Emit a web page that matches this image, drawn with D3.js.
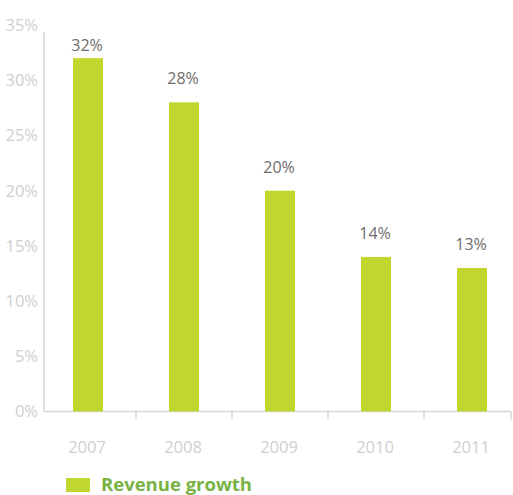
<!DOCTYPE html>
<html>
<head>
<meta charset="utf-8">
<script src="https://cdn.jsdelivr.net/npm/d3@7"></script>
<style>
  html, body { margin: 0; padding: 0; background: #fff; }
  svg { display: block; font-family: "Open Sans", "Noto Sans", sans-serif; }
</style>
</head>
<body>
<svg id="chart" width="513" height="495"></svg>
<script>
// Revenue growth by year (percent)
const years = ["2007", "2008", "2009", "2010", "2011"];
const growth = [32, 28, 20, 14, 13];
const yTicks = [0, 5, 10, 15, 20, 25, 30, 35];
const seriesName = "Revenue growth";

const barColor = "#c1d72f";
const axisColor = "#d6d6d6";
const tickTextColor = "#cfcfcf";

const svg = d3.select("#chart");

const x = d3.scaleBand().domain(years).range([40, 520]);
const y = d3.scaleLinear().domain([0, 35]).range([411.5, 25]);
const barWidth = 30;

// Axis lines
svg.append("line")
  .attr("x1", 44).attr("x2", 44)
  .attr("y1", 32).attr("y2", y(0))
  .attr("stroke", axisColor).attr("stroke-width", 1.5);
svg.append("line")
  .attr("x1", 44).attr("x2", 511)
  .attr("y1", y(0)).attr("y2", y(0))
  .attr("stroke", axisColor).attr("stroke-width", 1.5);

// Tick marks between categories
svg.selectAll(".xtick")
  .data(years.slice(1))
  .join("line")
  .attr("class", "xtick")
  .attr("x1", d => x(d)).attr("x2", d => x(d))
  .attr("y1", y(0)).attr("y2", y(0) + 8)
  .attr("stroke", axisColor).attr("stroke-width", 1.5);
svg.append("line")
  .attr("x1", 511).attr("x2", 511)
  .attr("y1", y(0)).attr("y2", y(0) + 8)
  .attr("stroke", axisColor).attr("stroke-width", 1.5);

// Y tick labels
svg.selectAll(".ylabel")
  .data(yTicks)
  .join("text")
  .attr("class", "ylabel")
  .attr("x", 38)
  .attr("y", d => y(d))
  .attr("dy", "0.36em")
  .attr("text-anchor", "end")
  .attr("fill", tickTextColor)
  .attr("font-size", 16.5)
  .text(d => d + "%");

// Bars
svg.selectAll(".bar")
  .data(growth)
  .join("rect")
  .attr("class", "bar")
  .attr("x", (d, i) => x(years[i]) + x.bandwidth() / 2 - barWidth / 2)
  .attr("y", d => y(d))
  .attr("width", barWidth)
  .attr("height", d => y(0) - y(d))
  .attr("fill", barColor);

// Value labels, kept below the top of the plot
svg.selectAll(".value")
  .data(growth)
  .join("text")
  .attr("class", "value")
  .attr("x", (d, i) => x(years[i]) + x.bandwidth() / 2 - 1)
  .attr("y", d => Math.max(y(d) - 18, 51))
  .attr("text-anchor", "middle")
  .attr("fill", "#6d6d6d")
  .attr("font-size", 16)
  .text(d => d + "%");

// Category labels
svg.selectAll(".xlabel")
  .data(years)
  .join("text")
  .attr("class", "xlabel")
  .attr("x", d => x(d) + x.bandwidth() / 2 - 1)
  .attr("y", 453)
  .attr("text-anchor", "middle")
  .attr("fill", tickTextColor)
  .attr("font-size", 16.5)
  .text(d => d);

// Legend
const legend = svg.append("g");
legend.append("rect")
  .attr("x", 66).attr("y", 478)
  .attr("width", 24).attr("height", 14)
  .attr("fill", barColor);
legend.append("text")
  .attr("x", 101).attr("y", 491)
  .attr("fill", "#79b245")
  .attr("font-size", 18.5)
  .attr("font-weight", "bold")
  .text(seriesName);
</script>
</body>
</html>
